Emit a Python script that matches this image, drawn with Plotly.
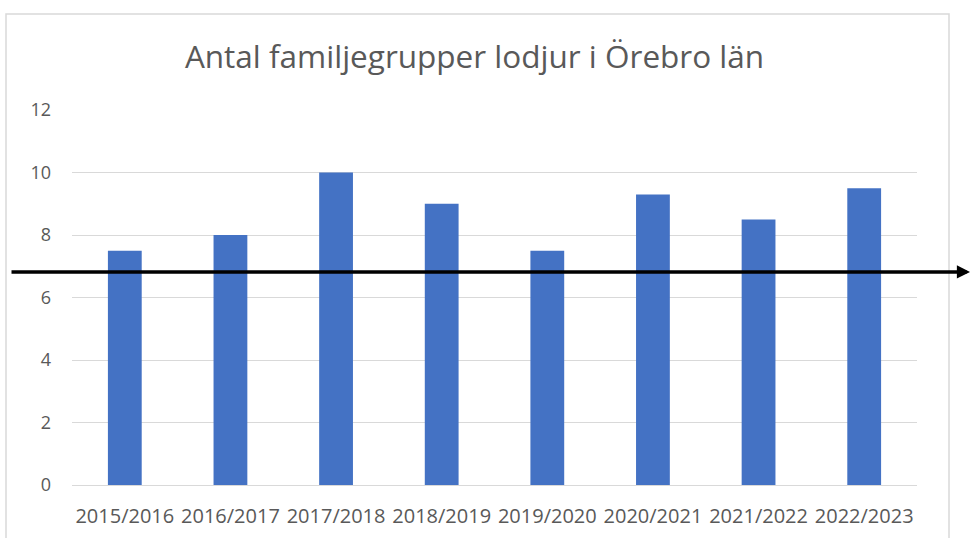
import plotly.graph_objects as go

seasons = ["2015/2016", "2016/2017", "2017/2018", "2018/2019",
           "2019/2020", "2020/2021", "2021/2022", "2022/2023"]
family_groups = [7.5, 8, 10, 9, 7.5, 9.3, 8.5, 9.5]
reference_level = 6.82
y_ticks = [0, 2, 4, 6, 8, 10, 12]

W, H = 971, 538
L, R, T, B = 72, 54, 110, 53
pw, ph = W - L - R, H - T - B

def px_x(p):
    return (p - L) / pw

def px_y(p):
    return (H - B - p) / ph

FONT = "Open Sans, Liberation Sans, Arial, sans-serif"

fig = go.Figure()
fig.add_trace(go.Bar(x=seasons, y=family_groups, marker_color="#4472C4",
                     marker_line_width=0, width=0.32, hoverinfo="skip"))

fig.update_layout(
    width=W, height=H,
    margin=dict(l=L, r=R, t=T, b=B, autoexpand=False),
    paper_bgcolor="white", plot_bgcolor="white",
    showlegend=False,
    font=dict(family=FONT, color="#595959"),
    title=dict(text="Antal familjegrupper lodjur i Örebro län",
               xref="container", x=474.5 / W, xanchor="center",
               y=1 - 57 / H, yanchor="middle",
               font=dict(size=31.5, color="#595959")),
    xaxis=dict(tickfont=dict(size=20, color="#595959"), tickangle=0,
               showgrid=False, showline=True, linecolor="#d9d9d9", linewidth=1,
               ticks="", ticklabelstandoff=13, automargin=False),
    yaxis=dict(range=[0, 12], tickvals=y_ticks, tickfont=dict(size=18, color="#595959"),
               showgrid=True, gridcolor="#d9d9d9", gridwidth=1,
               zeroline=False, showline=False, ticks="", ticklabelstandoff=20,
               automargin=False),
    shapes=[dict(type="rect", xref="paper", yref="paper",
                 x0=px_x(6), x1=px_x(949), y0=px_y(560), y1=px_y(14),
                 line=dict(color="#d9d9d9", width=1.5), fillcolor="rgba(0,0,0,0)",
                 layer="below")],
    annotations=[dict(xref="paper", yref="y", x=px_x(972), y=reference_level,
                      ax=-(972 - 10), ay=0, axref="pixel", ayref="pixel",
                      showarrow=True, arrowhead=2, arrowsize=0.75, arrowwidth=3.5,
                      arrowcolor="black", text="")],
)

fig.write_html("out.html", config={"displayModeBar": False},
               post_script="document.body.style.margin='0';document.body.style.overflow='hidden';")
